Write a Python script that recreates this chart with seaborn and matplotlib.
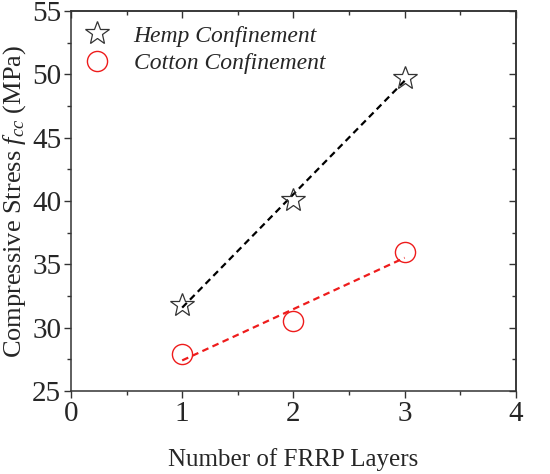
import matplotlib
matplotlib.use("Agg")
import matplotlib.pyplot as plt
import pandas as pd
import seaborn as sns
from matplotlib.ticker import MultipleLocator

# Values
layers = [1, 2, 3]
hemp_stress = [31.8, 40.1, 49.7]
cotton_stress = [27.9, 30.5, 36.0]

df = pd.DataFrame({
    "layers": layers * 2,
    "stress": hemp_stress + cotton_stress,
    "type": ["Hemp Confinement"] * 3 + ["Cotton Confinement"] * 3,
})

sns.set_theme(style="ticks")
plt.rcParams["font.family"] = ["Liberation Serif", "DejaVu Serif"]
plt.rcParams["mathtext.fontset"] = "custom"
plt.rcParams["mathtext.rm"] = "Liberation Serif"
plt.rcParams["mathtext.it"] = "Liberation Serif:italic"

fig = plt.figure(figsize=(5.5, 4.74), dpi=100)
ax = fig.add_axes([0.129, 0.175, 0.809, 0.802])

hemp = df[df["type"] == "Hemp Confinement"]
cotton = df[df["type"] == "Cotton Confinement"]

sns.regplot(data=hemp, x="layers", y="stress", ci=None, scatter=False, ax=ax,
            line_kws={"color": "black", "lw": 1.6, "ls": (0, (3, 2))})
sns.regplot(data=cotton, x="layers", y="stress", ci=None, scatter=False, ax=ax,
            line_kws={"color": "#ee1c1c", "lw": 1.6, "ls": (0, (3, 2))})

h1, = ax.plot(hemp["layers"], hemp["stress"], ls="none", marker="*", ms=18,
              mfc="none", mec="#333333", mew=0.9, label="Hemp Confinement")
h2, = ax.plot(cotton["layers"], cotton["stress"], ls="none", marker="o", ms=14.5,
              mfc="none", mec="#ee1c1c", mew=1.0, label="Cotton Confinement")

ax.set_xlim(0, 4)
ax.set_ylim(25, 55)
ax.xaxis.set_major_locator(MultipleLocator(1))
ax.xaxis.set_minor_locator(MultipleLocator(0.5))
ax.yaxis.set_major_locator(MultipleLocator(5))
ax.yaxis.set_minor_locator(MultipleLocator(2.5))
ax.tick_params(which="major", direction="out", length=5, width=1, color="#333333",
               labelsize=21, pad=2)
ax.tick_params(which="minor", direction="out", length=3, width=1, color="#333333")

# mirrored ticks on top and right, pointing inward
top = ax.secondary_xaxis("top")
top.xaxis.set_major_locator(MultipleLocator(1))
top.xaxis.set_minor_locator(MultipleLocator(0.5))
top.tick_params(which="major", direction="in", length=5, width=1, color="#333333", labeltop=False)
top.tick_params(which="minor", direction="in", length=3, width=1, color="#333333")
right = ax.secondary_yaxis("right")
right.yaxis.set_major_locator(MultipleLocator(5))
right.yaxis.set_minor_locator(MultipleLocator(2.5))
right.tick_params(which="major", direction="in", length=5, width=1, color="#333333", labelright=False)
right.tick_params(which="minor", direction="in", length=3, width=1, color="#333333")

for a in (ax, top, right):
    for s in a.spines.values():
        s.set_color("#333333")
        s.set_linewidth(1.1)

ax.set_xlabel("Number of FRRP Layers", fontsize=18, labelpad=15)
ax.set_ylabel("Compressive Stress $f_{cc}$ (MPa)", fontsize=19, labelpad=3)

ax.legend(handles=[h1, h2], loc="upper left", frameon=False,
          prop={"style": "italic", "size": 17}, handlelength=1.0, handletextpad=1.05,
          borderaxespad=0.3, borderpad=0.3, labelspacing=0.25, bbox_to_anchor=(0.0, 1.0))

fig.savefig("out.png", dpi=100)
